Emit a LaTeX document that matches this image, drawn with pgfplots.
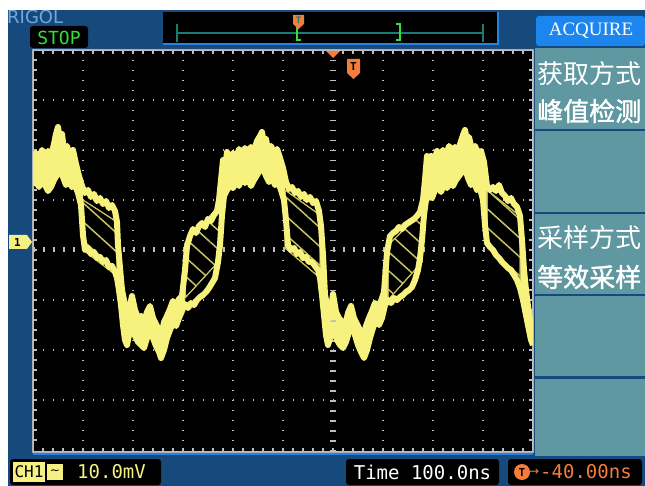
\documentclass[border=0pt]{standalone}
\usepackage{pgfplots}
\pgfplotsset{compat=1.18}
\usepgfplotslibrary{fillbetween}
\usetikzlibrary{patterns.meta}
\usepackage{fontspec}
\setmainfont{DejaVu Sans Mono}
\newfontfamily\cjk{Noto Sans CJK SC}
\newfontfamily\cjkb[FakeBold=1.5]{Noto Sans CJK SC}
\newfontfamily\acq{Liberation Serif}
\newfontfamily\dvs{DejaVu Sans}

\definecolor{bezel}{RGB}{22,74,124}
\definecolor{menu}{RGB}{95,152,160}
\definecolor{hdr}{RGB}{28,134,238}
\definecolor{trace}{RGB}{247,242,125}
\definecolor{hatch}{RGB}{200,195,95}
\definecolor{gridc}{RGB}{190,190,190}
\definecolor{trig}{RGB}{245,125,60}
\definecolor{stopg}{RGB}{50,225,50}
\definecolor{tbline}{RGB}{25,125,115}
\definecolor{logo}{RGB}{110,168,222}
\definecolor{chy}{RGB}{245,240,130}
\definecolor{edge}{RGB}{40,130,230}

% upper and lower envelope of the peak-detect trace (screen pixels, y down)
\pgfplotstableread{
x y
33 160
36 153
39 158
42 150
45 156
48 151
51 156
54 144
56 134
58 127
60 140
62 134
64 150
67 146
70 157
73 150
76 164
79 176
82 186
85 193
88 190
91 197
94 194
97 201
100 198
103 204
106 201
109 208
112 205
115 211
117 222
118 245
120 268
122 290
125 305
127 318
130 306
132 296
135 310
138 318
141 316
144 322
147 312
150 306
153 318
156 324
159 330
161 338
164 322
167 316
170 309
173 301
176 306
179 299
182 296
185 270
187 246
190 236
193 229
196 233
199 226
202 223
205 227
208 219
211 221
214 215
217 211
219 200
221 180
223 160
225 170
227 152
230 161
233 153
236 159
239 149
242 156
245 148
248 153
251 147
254 151
257 141
260 136
262 132
264 144
266 139
268 151
271 146
274 153
277 149
280 158
283 168
286 182
289 189
292 187
295 193
298 191
301 197
304 194
307 200
310 197
313 203
316 201
319 211
321 226
323 255
325 295
327 305
330 318
333 294
336 312
339 318
342 322
345 326
348 313
351 306
354 318
357 324
360 330
363 338
366 326
369 318
372 311
375 303
378 307
381 301
384 292
387 252
390 236
393 233
396 231
399 227
402 229
405 225
408 223
411 221
414 219
417 216
420 212
423 200
425 180
427 156
429 165
431 156
434 162
437 151
440 158
443 150
446 156
449 146
452 152
455 147
458 151
461 141
463 135
465 130
467 141
469 137
472 150
475 146
478 153
481 151
484 162
487 186
490 190
493 187
496 191
499 185
502 193
505 196
508 201
511 198
514 204
517 207
520 216
522 240
524 270
526 290
528 306
530 320
533 336
}\Tup

\pgfplotstableread{
x y
33 185
36 181
39 187
42 179
45 185
48 191
51 187
54 180
57 175
60 170
63 177
66 185
69 181
72 187
75 185
78 193
81 205
83 235
85 250
88 248
91 254
94 252
97 258
100 257
103 262
106 260
109 267
112 266
115 272
117 278
119 290
121 305
123 325
125 340
127 345
130 330
132 320
135 336
138 342
141 345
144 348
147 338
150 326
153 338
156 346
159 352
161 358
164 350
167 338
170 330
173 323
176 326
179 318
182 311
185 304
188 308
191 303
194 305
197 300
200 297
203 295
206 292
209 288
212 283
215 278
218 262
220 245
222 215
224 196
227 190
230 185
233 188
236 181
239 186
242 177
245 183
248 178
251 186
254 180
257 175
260 170
263 168
266 176
269 182
272 178
275 185
278 182
281 190
284 200
286 220
288 245
291 250
294 248
297 254
300 252
303 258
306 257
309 262
312 262
315 266
318 270
320 278
322 295
324 315
326 335
328 345
331 335
334 328
337 340
340 345
343 348
346 342
349 332
352 322
355 335
358 345
361 352
364 358
367 350
370 338
373 328
376 320
379 325
382 318
385 305
388 300
391 303
394 298
397 300
400 297
403 295
406 292
409 290
412 287
415 280
418 270
420 258
422 240
424 215
426 200
429 196
432 198
435 190
438 186
441 192
444 184
447 188
450 182
453 186
456 180
459 176
462 172
465 168
468 178
471 185
474 182
477 190
480 188
483 200
485 225
487 243
490 247
493 250
496 255
499 258
502 262
505 265
508 268
511 270
514 275
517 280
520 288
523 300
526 315
529 330
531 340
533 345
}\Tlo

\begin{document}
\begin{tikzpicture}
\begin{scope}[x=1pt,y=-1pt]
% page and bezel, with a hole where the screen (axis) shows through
\fill[white, even odd rule] (0,0) rectangle (645,486) (8,10) rectangle (645,486);
\fill[bezel, even odd rule] (8,10) rectangle (645,486) (32.1,49.1) rectangle (533.9,452.9);
\node[anchor=base west, inner sep=0, text=logo, font=\dvs\fontsize{18}{18}\selectfont] at (7,24) {RIGOL};
\fill[white] (0,0) rectangle (645,10);
% STOP
\fill[black, rounded corners=3pt] (30,26) rectangle (88,48);
\node[text=stopg, inner sep=0, font=\fontsize{18}{18}\selectfont] at (59,37.5) {STOP};
% time base bar
\fill[black] (163,12) rectangle (497,43);
\draw[edge, line width=2pt] (163,44) -- (498,44) -- (498,12);
\draw[tbline, line width=1.5pt] (177,33) -- (483,33);
\draw[tbline, line width=1.5pt] (177,24) -- (177,42) (483,24) -- (483,42);
\draw[stopg, line width=1.5pt] (297,27) -- (297,40) -- (301,40);
\draw[stopg, line width=1.5pt] (396,24) -- (400,24) -- (400,40) -- (396,40);
\fill[trig] (293,15) -- (304,15) -- (304,24) -- (298.5,29) -- (293,24) -- cycle;
\node[text=tbline, inner sep=0, font=\bfseries\fontsize{9}{9}\selectfont] at (298.5,20.5) {T};
% menu
\fill[hdr, rounded corners=3pt] (536,16) rectangle (645,46);
\node[text=white, inner sep=0, font=\acq\fontsize{19}{19}\selectfont] at (591,31) {ACQUIRE};
\fill[menu] (535,48) rectangle (645,456);
\foreach \yy in {129,212,294,376} \fill[bezel] (535,\yy) rectangle (645,\yy+2.5);
\node[anchor=west, text=white, inner sep=0, font=\cjk\fontsize{26}{26}\selectfont] at (537,74) {获取方式};
\node[anchor=west, text=white, inner sep=0, font=\cjkb\fontsize{26}{26}\selectfont] at (537,111) {峰值检测};
\node[anchor=west, text=white, inner sep=0, font=\cjk\fontsize{26}{26}\selectfont] at (537,238) {采样方式};
\node[anchor=west, text=white, inner sep=0, font=\cjkb\fontsize{26}{26}\selectfont] at (537,277) {等效采样};
% bottom status
\draw[edge, line width=2pt] (33,454) -- (533,454);
\fill[black, rounded corners=3pt] (10,459) rectangle (161,485);
\fill[chy] (13,462) rectangle (45,482);
\node[text=black, inner sep=0, font=\fontsize{16}{16}\selectfont] at (29,472) {CH1};
\fill[chy] (47,464) rectangle (63,480);
\node[text=black, inner sep=0, font=\dvs\fontsize{12}{12}\selectfont] at (55,472) {∼};
\node[anchor=west, text=chy, inner sep=0, font=\fontsize{19}{19}\selectfont] at (77,472) {10.0mV};
\fill[black, rounded corners=3pt] (346,459) rectangle (499,485);
\node[text=white, inner sep=0, font=\fontsize{19}{19}\selectfont] at (422.5,472) {Time 100.0ns};
\fill[black, rounded corners=3pt] (508,459) rectangle (642,485);
\fill[trig] (522,472) circle (8);
\node[text=black, inner sep=0, font=\bfseries\fontsize{11}{11}\selectfont] at (522,472) {T};
\node[anchor=west, text=trig, inner sep=0, font=\dvs\fontsize{12}{12}\selectfont] at (529,472) {→};
\node[anchor=west, text=trig, inner sep=0, font=\fontsize{19}{19}\selectfont] at (540,472) {-40.00ns};
\end{scope}

\begin{axis}[
  at={(33pt,-50pt)}, anchor=north west,
  width=500pt, height=402pt, scale only axis,
  xmin=33, xmax=533, ymin=50, ymax=452, y dir=reverse,
  axis background/.style={fill=black},
  axis line style={draw=gridc, line width=1.6pt},
  xtick={83,133,...,483}, ytick={100,150,200,300,350,400},
  minor xtick={43,53,...,523}, minor ytick={60,70,...,440},
  xticklabels={}, yticklabels={},
  tick align=inside, xtick pos=both, ytick pos=both,
  major tick length=4pt, minor tick length=4pt,
  tick style={gridc, line width=1.2pt},
  grid=major,
  major grid style={draw=gridc, line width=1.3pt, dash pattern=on 1.3pt off 8.7pt},
  hatched/.style={fill=black, draw=hatch, line width=1pt,
    postaction={pattern={Lines[angle=-42,distance=14pt,line width=1.5pt]}, pattern color=hatch}},
]
\draw[gridc, line width=5pt, dash pattern=on 1.5pt off 8.5pt] (axis cs:33,250) -- (axis cs:533,250);
\draw[gridc, line width=6pt, dash pattern=on 1.5pt off 8.5pt] (axis cs:333,50) -- (axis cs:333,452);

\addplot[name path=U, draw=none] table {\Tup};
\addplot[name path=L, draw=none] table {\Tlo};
\addplot[fill=trace, draw=none] fill between[of=U and L, soft clip={(axis cs:33,40) rectangle (axis cs:83,460)}];
\addplot[fill=trace, draw=none] fill between[of=U and L, soft clip={(axis cs:117,40) rectangle (axis cs:185,460)}];
\addplot[fill=trace, draw=none] fill between[of=U and L, soft clip={(axis cs:220,40) rectangle (axis cs:285,460)}];
\addplot[fill=trace, draw=none] fill between[of=U and L, soft clip={(axis cs:320,40) rectangle (axis cs:388,460)}];
\addplot[fill=trace, draw=none] fill between[of=U and L, soft clip={(axis cs:422,40) rectangle (axis cs:487,460)}];
\addplot[fill=trace, draw=none] fill between[of=U and L, soft clip={(axis cs:520,40) rectangle (axis cs:533,460)}];

\addplot[hatched] coordinates {(83,200) (117,222) (117,276) (83,250) (83,200)};
\addplot[hatched] coordinates {(185,243) (220,205) (220,260) (185,298) (185,243)};
\addplot[hatched] coordinates {(285,190) (320,215) (320,278) (285,248) (285,190)};
\addplot[hatched] coordinates {(388,245) (422,212) (422,262) (388,300) (388,245)};
\addplot[hatched] coordinates {(487,190) (520,216) (520,285) (487,245) (487,190)};

\addplot[trace, line width=6pt, line join=round] table {\Tup};
\addplot[trace, line width=6pt, line join=round] table {\Tlo};
\end{axis}

\begin{scope}[x=1pt,y=-1pt]
\fill[trig] (326,51) -- (340,51) -- (333,58) -- cycle;
\fill[trig] (347,59) -- (360,59) -- (360,73) -- (353.5,79) -- (347,73) -- cycle;
\node[text=black, inner sep=0, font=\bfseries\fontsize{11}{11}\selectfont] at (353.5,66.5) {T};
\fill[chy] (9,235) -- (27,235) -- (32,242) -- (27,249) -- (9,249) -- cycle;
\node[text=black, inner sep=0, font=\bfseries\fontsize{11}{11}\selectfont] at (17.5,242) {1};
\end{scope}
\end{tikzpicture}
\end{document}
